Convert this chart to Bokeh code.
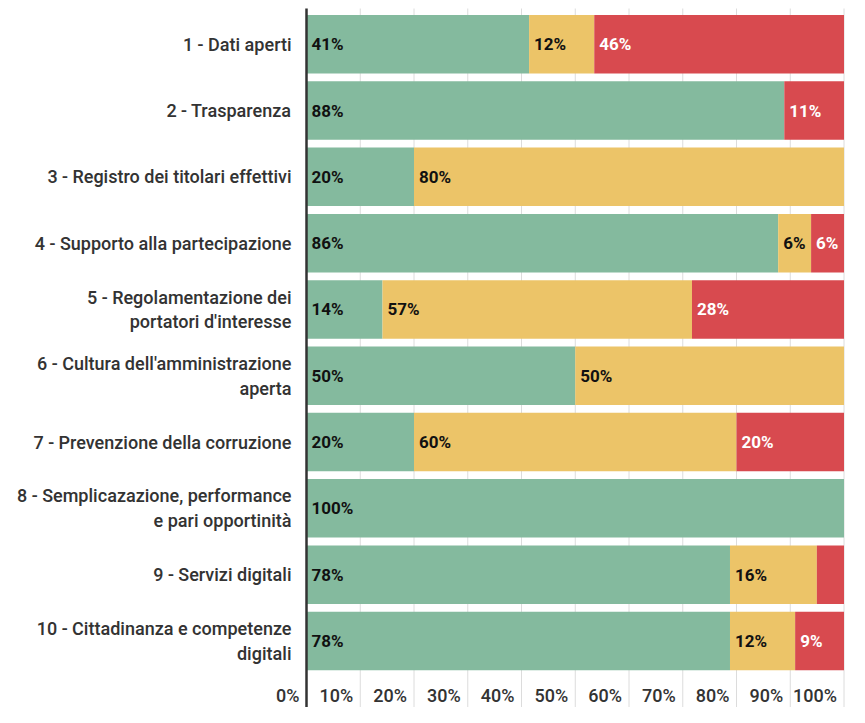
from bokeh.plotting import figure
from bokeh.models import Range1d, ColumnDataSource
from bokeh.core.properties import value
from bokeh.embed import file_html
from bokeh.resources import INLINE

# ---------------- data ----------------
categories = [
    "1 - Dati aperti",
    "2 - Trasparenza",
    "3 - Registro dei titolari effettivi",
    "4 - Supporto alla partecipazione",
    "5 - Regolamentazione dei\nportatori d'interesse",
    "6 - Cultura dell'amministrazione\naperta",
    "7 - Prevenzione della corruzione",
    "8 - Semplicazazione, performance\ne pari opportinità",
    "9 - Servizi digitali",
    "10 - Cittadinanza e competenze\ndigitali",
]
green = [41, 88, 20, 86, 14, 50, 20, 100, 78, 78]
yellow = [12, 0, 80, 6, 57, 50, 60, 0, 16, 12]
red = [46, 11, 0, 6, 28, 0, 20, 0, 5, 9]
tick_values = [0, 10, 20, 30, 40, 50, 60, 70, 80, 90, 100]
tick_labels = ["0%", "10%", "20%", "30%", "40%", "50%", "60%", "70%", "80%", "90%", "100%"]

# ---------------- layout / style ----------------
W, H = 849, 707
PX0 = 306.0          # frame pixel of 0%
PXPER = 5.375        # pixels per percent
ROW0 = 43.75         # frame pixel (from top) of first row centre
PITCH = 66.3         # pixels between rows
BAR_H = 58.5 / PITCH
MIN_SHARE = 5.5      # segments narrower than this get no label

GREEN = "#84ba9e"
YELLOW = "#ecc468"
RED = "#d84a4f"
TEXT = "#333333"
FONT = value("Roboto")
FONT_MED = value("'Roboto Medium', Roboto")

x_range = Range1d(-PX0 / PXPER, (W - PX0) / PXPER)
y_range = Range1d((H - ROW0) / PITCH, -ROW0 / PITCH)

p = figure(width=W, height=H, x_range=x_range, y_range=y_range,
           output_backend="svg", toolbar_location=None,
           x_axis_type=None, y_axis_type=None, min_border=0)
p.outline_line_color = None
p.grid.visible = False
p.background_fill_color = "white"
p.border_fill_color = "white"

n = len(categories)
rows = list(range(n))

# gridlines
y_top = (8.0 - ROW0) / PITCH
y_bot = (707.0 - ROW0) / PITCH
grid_x = [t for t in tick_values if t != 0]
p.segment(x0=grid_x, x1=grid_x, y0=[y_top] * len(grid_x), y1=[y_bot] * len(grid_x),
          line_color="#dcdcdc", line_width=1)

# stacked bars (100% normalised)
g_l, g_r, y_l, y_r, r_l, r_r = [], [], [], [], [], []
for g, yv, r in zip(green, yellow, red):
    tot = g + yv + r
    a = 100.0 * g / tot
    b = 100.0 * (g + yv) / tot
    g_l.append(0.0); g_r.append(a)
    y_l.append(a); y_r.append(b)
    r_l.append(b); r_r.append(100.0)

p.hbar(y=rows, left=g_l, right=g_r, height=BAR_H, fill_color=GREEN, line_color=None)
p.hbar(y=rows, left=y_l, right=y_r, height=BAR_H, fill_color=YELLOW, line_color=None)
p.hbar(y=rows, left=r_l, right=r_r, height=BAR_H, fill_color=RED, line_color=None)

# value labels inside bars
lx, ly, lt, lc = [], [], [], []
for i in rows:
    for v, left, right, col in ((green[i], g_l[i], g_r[i], "#111111"),
                                (yellow[i], y_l[i], y_r[i], "#111111"),
                                (red[i], r_l[i], r_r[i], "#ffffff")):
        if v > 0 and (right - left) >= MIN_SHARE:
            lx.append(left); ly.append(i); lt.append(f"{v}%"); lc.append(col)
src = ColumnDataSource(dict(x=lx, y=ly, text=lt, color=lc))
p.text(x="x", y="y", text="text", source=src, text_color="color",
       x_offset=5, text_align="left", text_baseline="middle",
       text_font=FONT, text_font_style="bold", text_font_size="17px")

# zero line
p.segment(x0=[0], x1=[0], y0=[y_top], y1=[y_bot], line_color="#333333", line_width=2.5)

# category labels
p.text(x=[0] * n, y=rows, text=categories, x_offset=-15,
       text_align="right", text_baseline="middle", text_color=TEXT,
       text_font=FONT_MED, text_font_size="18px", text_line_height=1.18)

# tick labels
tick_y = (695.0 - ROW0) / PITCH
p.text(x=tick_values, y=[tick_y] * len(tick_values), text=tick_labels, x_offset=-7,
       text_align="right", text_baseline="middle", text_color=TEXT,
       text_font=FONT_MED, text_font_size="18px")

open("out.html", "w").write(file_html(p, INLINE))
